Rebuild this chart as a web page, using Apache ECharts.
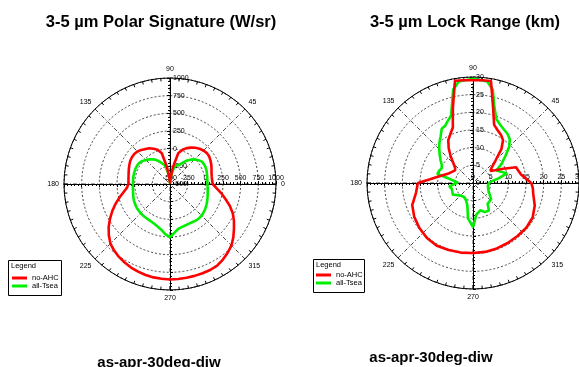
<!DOCTYPE html>
<html>
<head>
<meta charset="utf-8">
<script src="https://cdn.jsdelivr.net/npm/echarts@6/dist/echarts.min.js"></script>
<style>
  html, body { margin: 0; padding: 0; background: #fff; }
  #chart { width: 579px; height: 367px; }
</style>
</head>
<body>
<div id="chart"></div>
<script>
const FONT = '"Liberation Sans", Arial, Helvetica, sans-serif';
const seriesNames = ['no-AHC', 'all-Tsea'];
const axisDirs = [0, 90, 180, 270];

// left plot: 3-5 um polar signature (W/sr)
const sigRange = [-500, 1000];
const sigStep = 250;
const sigAngles = [0, 5, 10, 15, 20, 25, 30, 35, 40, 45, 50, 55, 60, 65, 70, 75, 80, 85,
  90, 95, 100, 105, 110, 115, 120, 125, 130, 135, 140, 145, 150, 155, 160, 165, 170, 175,
  180, 185, 190, 195, 200, 205, 210, 215, 220, 225, 230, 235, 240, 245, 250, 255, 260, 265,
  270, 275, 280, 285, 290, 295, 300, 305, 310, 315, 320, 325, 330, 335, 340, 345, 350, 355];
const sigNoAhc = [105, 98, 100, 108, 125, 145, 162, 178, 180, 170, 150, 125, 95, 60, 15, -50, -260, -420,
  -490, -420, -260, -50, 15, 50, 85, 106, 130, 152, 160, 158, 150, 135, 120, 106, 96, 90,
  88, 112, 168, 240, 320, 400, 480, 560, 630, 692, 730, 760, 783, 805, 820, 833, 842, 847,
  851, 849, 847, 846, 845, 843, 835, 805, 770, 730, 670, 605, 545, 480, 400, 310, 235, 160];
const sigAllTsea = [30, 31, 35, 42, 50, 55, 57, 52, 25, -8, -50, -100, -160, -205, -212, -230, -330, -420,
  -490, -420, -330, -228, -195, -150, -105, -75, -45, -20, 8, 25, 33, 34, 32, 30, 28, 26,
  25, 27, 32, 40, 52, 62, 70, 78, 82, 85, 87, 88, 90, 97, 110, 135, 165, 215,
  253, 195, 150, 132, 125, 122, 125, 133, 137, 132, 122, 110, 95, 80, 65, 52, 42, 35];

// right plot: 3-5 um lock range (km)
const lockRange = [0, 30];
const lockStep = 5;
const lockRedAngles = [0, 5, 10, 15, 20, 25, 30, 35, 40, 45, 50, 55, 60, 65, 70, 75, 80, 85, 90, 95,
  100, 105, 110, 115, 120, 125, 130, 135, 140, 145, 150, 160, 170, 175, 180, 190, 200, 210,
  220, 230, 240, 250, 260, 270, 280, 290, 300, 310, 320, 330, 340, 350, 355];
const lockNoAhc = [16.5, 15, 13.8, 13.3, 13, 9.5, 7.2, 6, 7, 9, 12.5, 14.8, 15.8, 16.5, 17.5, 22, 29.3, 29.2, 29.1, 29.2,
  29.4, 22, 16.7, 15.2, 14, 12, 9.8, 7.8, 6.6, 6.2, 6.4, 7.6, 10.1, 12.2, 15.6, 16.4, 18.3, 19.2,
  19.8, 20.3, 20.5, 20.2, 20, 19.8, 19.8, 19.7, 19.6, 19.6, 19.7, 19.5, 18.6, 17.3, 17];
const lockGreenAngles = [0, 5, 10, 16, 22, 28, 34, 40, 45, 50, 55, 60, 65, 70, 75, 78, 82, 90, 98, 102,
  105, 108, 112, 116, 120, 125, 130, 135, 140, 145, 150, 155, 160, 166, 170, 178, 188, 195, 210, 225,
  240, 250, 256, 262, 270, 276, 285, 292, 300, 305, 318, 335, 348, 355];
const lockAllTsea = [4.5, 5.2, 7.2, 10, 8.5, 7.5, 9.8, 12, 14.5, 16.2, 17, 17.5, 18.2, 19.3, 23, 27, 29, 29.5, 29, 27,
  23, 20, 19, 18, 17.7, 16, 14.8, 13.5, 12.3, 11.2, 10.2, 9.8, 10.2, 10.4, 6.8, 4.3, 6.8, 6.2, 6.6, 5,
  4.7, 5.5, 6.6, 10.1, 12.5, 9, 8, 8.9, 9, 7.2, 6.9, 4.8, 4.3, 4.5];

const R = 106;
const polar = [], angleAxis = [], radiusAxis = [];
const plainNum = (v) => String(v);

// one chart = 4 polars on the same centre, so the radius axis line is drawn in all 4 directions
function addChart(center, range, step) {
  const first = polar.length;
  axisDirs.forEach((dir, k) => {
    const idx = polar.length;
    polar.push({ center: center, radius: R });
    if (k === 0) {
      angleAxis.push({
        polarIndex: idx, type: 'value', min: 0, max: 360, interval: 45,
        startAngle: 0, clockwise: false,
        axisLine: { lineStyle: { color: '#000', width: 1 } },
        axisTick: { show: true, inside: true, length: 4, lineStyle: { color: '#000' } },
        minorTick: { show: true, splitNumber: 9, length: 3, lineStyle: { color: '#000' } },
        axisLabel: { fontSize: 7, color: '#000', margin: 5, fontFamily: FONT, formatter: plainNum },
        splitLine: { show: true, lineStyle: { color: '#444', width: 1, type: [4, 2, 1, 2] } }
      });
    } else {
      angleAxis.push({ polarIndex: idx, type: 'value', min: 0, max: 360, startAngle: dir, clockwise: false, show: false });
    }
    let label = { show: false };
    if (dir === 0) {
      label = { show: true, fontSize: 7, color: '#000', margin: 2, fontFamily: FONT, formatter: plainNum };
    } else if (dir === 90) {
      label = { show: true, fontSize: 7, color: '#000', margin: -3, align: 'left', fontFamily: FONT, formatter: plainNum };
    }
    radiusAxis.push({
      polarIndex: idx, type: 'value', min: range[0], max: range[1], interval: step,
      axisLine: { show: true, lineStyle: { color: '#000', width: 1 } },
      axisTick: { show: true, length: 3, lineStyle: { color: '#000' } },
      minorTick: { show: true, splitNumber: 5, length: 2, lineStyle: { color: '#000' } },
      axisLabel: label,
      splitLine: { show: k === 0, lineStyle: { color: '#444', width: 1, type: [2, 2] } },
      splitArea: { show: false }
    });
  });
  return first;
}

const leftPolar = addChart([170, 184], sigRange, sigStep);
const rightPolar = addChart([473, 183], lockRange, lockStep);

function pairs(angles, values) {
  const pts = angles.map((a, i) => [values[i], a]);
  pts.push([values[0], 360]);
  return pts;
}

function lineSeries(name, polarIndex, angles, values, color) {
  return {
    name: name, type: 'line', coordinateSystem: 'polar', polarIndex: polarIndex,
    data: pairs(angles, values),
    showSymbol: false, symbol: 'none',
    lineStyle: { color: color, width: 2.6 },
    itemStyle: { color: color }
  };
}

const legendBase = {
  orient: 'vertical', data: seriesNames, icon: 'rect', itemWidth: 15, itemHeight: 3,
  itemGap: 0, padding: 0, selectedMode: false,
  textStyle: { fontSize: 7.5, color: '#000', fontFamily: FONT }
};

const titleStyle = { fontSize: 16.5, fontWeight: 'bold', color: '#000', fontFamily: FONT };
const captionStyle = { fontSize: 15, fontWeight: 'bold', color: '#000', fontFamily: FONT };

const option = {
  animation: false,
  backgroundColor: '#fff',
  title: [
    { text: '3-5 µm Polar Signature (W/sr)', left: 161, top: 14, textAlign: 'center', padding: 0, textStyle: titleStyle },
    { text: '3-5 µm Lock Range (km)', left: 465, top: 14, textAlign: 'center', padding: 0, textStyle: titleStyle },
    { text: 'as-apr-30deg-diw', left: 159, top: 355, textAlign: 'center', padding: 0, textStyle: captionStyle },
    { text: 'as-apr-30deg-diw', left: 431, top: 350, textAlign: 'center', padding: 0, textStyle: captionStyle }
  ],
  legend: [
    Object.assign({ left: 12, top: 274 }, legendBase),
    Object.assign({ left: 316, top: 271 }, legendBase)
  ],
  graphic: [
    { type: 'rect', left: 8, top: 260, z: 1, shape: { width: 53, height: 35 }, style: { fill: '#fff', stroke: '#000', lineWidth: 1 } },
    { type: 'text', left: 11, top: 262, z: 2, style: { text: 'Legend', fontSize: 7.5, fill: '#000', fontFamily: FONT } },
    { type: 'rect', left: 313, top: 259, z: 1, shape: { width: 51, height: 33 }, style: { fill: '#fff', stroke: '#000', lineWidth: 1 } },
    { type: 'text', left: 316, top: 261, z: 2, style: { text: 'Legend', fontSize: 7.5, fill: '#000', fontFamily: FONT } }
  ],
  polar: polar,
  angleAxis: angleAxis,
  radiusAxis: radiusAxis,
  series: [
    lineSeries(seriesNames[1], leftPolar, sigAngles, sigAllTsea, '#00ee00'),
    lineSeries(seriesNames[0], leftPolar, sigAngles, sigNoAhc, '#ff0000'),
    lineSeries(seriesNames[1], rightPolar, lockGreenAngles, lockAllTsea, '#00ee00'),
    lineSeries(seriesNames[0], rightPolar, lockRedAngles, lockNoAhc, '#ff0000')
  ]
};

const chart = echarts.init(document.getElementById('chart'));
chart.setOption(option);
</script>
</body>
</html>
